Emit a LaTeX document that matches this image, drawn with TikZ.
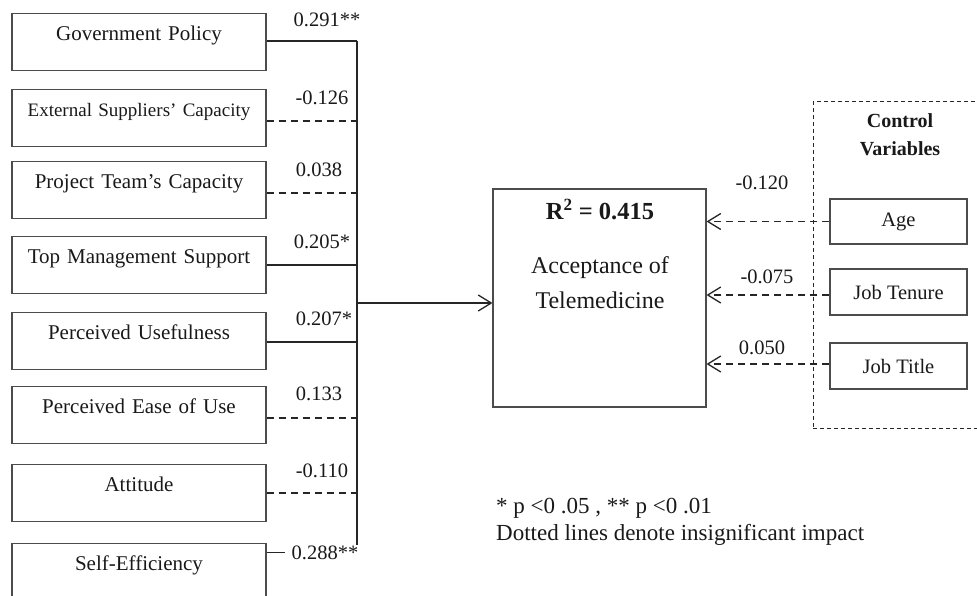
\documentclass[tikz,border=0pt]{standalone}
\usepackage{fontspec}
\setmainfont{Liberation Serif}
\usetikzlibrary{arrows.meta}

\begin{document}
\begin{tikzpicture}[x=1pt, y=-1pt,
  every node/.style={text=black!90},
  varbox/.style={draw=black!70, line width=1.1pt, inner sep=0pt,
    text width=254pt, align=center, text height=27pt, text depth=30pt,
    font=\fontsize{21}{25}\selectfont},
  ctrlbox/.style={draw=black!70, line width=1.1pt, inner sep=0pt,
    minimum width=137pt, minimum height=45pt,
    font=\fontsize{20.5}{24}\selectfont},
  coef/.style={anchor=base, inner sep=0pt, font=\fontsize{20.5}{24}\selectfont},
  sigline/.style={draw=black!85, line width=1.3pt},
  nsline/.style={draw=black!85, line width=1.3pt, dash pattern=on 7pt off 5pt},
  barb/.style={-{Straight Barb[length=13pt,width=16pt,line width=1.3pt]}}
]
\useasboundingbox (0,0) rectangle (977,596);

% predictors
\node[varbox] (gp)  at (139,42)  {Government Policy};
\node[varbox, font=\fontsize{19}{23}\selectfont] (es) at (139,118) {External Suppliers' Capacity};
\node[varbox] (pt)  at (139,190) {Project Team's Capacity};
\node[varbox] (tm)  at (139,265) {Top Management Support};
\node[varbox] (pu)  at (139,341) {Perceived Usefulness};
\node[varbox] (pe)  at (139,415) {Perceived Ease of Use};
\node[varbox] (at)  at (139,493) {Attitude};
\node[varbox] (se)  at (139,572) {Self-Efficiency};

% path coefficients
\node[coef] (c1) at (327,27)  {0.291**};
\node[coef] (c2) at (322,105) {-0.126};
\node[coef] (c3) at (319,177) {0.038};
\node[coef] (c4) at (322,248) {0.205*};
\node[coef] (c5) at (324,325) {0.207*};
\node[coef] (c6) at (319,400) {0.133};
\node[coef] (c7) at (322,477) {-0.110};
\node[coef] (c8) at (325,559) {0.288**};

% collecting spine
\coordinate (top) at (357,41);
\coordinate (bot) at (357,545);
\coordinate (hub) at (357,303);
\draw[sigline] (top) -- (bot);

\draw[sigline] ([yshift=1pt]gp.east) -- ([yshift=1pt]gp.east -| top);
\draw[nsline]  ([yshift=-3pt]es.east) -- ([yshift=-3pt]es.east -| top);
\draw[nsline]  ([yshift=-3pt]pt.east) -- ([yshift=-3pt]pt.east -| top);
\draw[sigline] (tm.east) -- (tm.east -| top);
\draw[sigline] ([yshift=-1pt]pu.east) -- ([yshift=-1pt]pu.east -| top);
\draw[nsline]  ([yshift=-3pt]pe.east) -- ([yshift=-3pt]pe.east -| top);
\draw[nsline]  (at.east) -- (at.east -| top);
\draw[sigline] (c8.west -| se.east) -- ([xshift=-6pt]c8.west);

% outcome
\node[draw=black!70, line width=1.1pt, minimum width=213pt, minimum height=218pt,
      inner sep=0pt] (acc) at (599.5,298) {};
\node[anchor=base, inner sep=0pt, font=\fontsize{24.5}{28}\selectfont\bfseries] (r2)
      at (600,220) {R\textsuperscript{2} = 0.415};
\node[anchor=base, inner sep=0pt, align=center, font=\fontsize{24}{35}\selectfont] (acct)
      at (600,308) {Acceptance of\\Telemedicine};

\draw[sigline, barb] (hub) -- (acc.west |- hub);

% control variables
\node[draw=black!85, line width=1pt, dash pattern=on 4pt off 3pt,
      minimum width=177pt, minimum height=326pt, inner sep=0pt] (ctrl) at (901.5,265) {};
\node[anchor=base, inner sep=0pt, align=center, font=\fontsize{20}{28}\selectfont\bfseries] (ctrlt)
      at (900,156) {Control\\Variables};

\node[ctrlbox] (age) at (898.5,221.5) {Age};
\node[ctrlbox, minimum height=46pt] (jten) at (898.5,292) {Job Tenure};
\node[ctrlbox, minimum height=46pt] (jtit) at (898.5,366) {Job Title};

\draw[nsline, barb] (age.west) -- (age.west -| acc.east);
\draw[nsline, barb] ([yshift=-3pt]jten.west) -- ([yshift=-3pt]jten.west -| acc.east);
\draw[nsline, barb] ([yshift=2pt]jtit.west) -- ([yshift=2pt]jtit.west -| acc.east);

\node[coef] (k1) at (762,190) {-0.120};
\node[coef] (k2) at (767,283) {-0.075};
\node[coef] (k3) at (762,354) {0.050};

% legend
\node[anchor=base west, inner sep=0pt, align=left, font=\fontsize{23}{27}\selectfont] (legend)
      at (496,540) {* p <0 .05 , ** p <0 .01\\Dotted lines denote insignificant impact};
\end{tikzpicture}
\end{document}
